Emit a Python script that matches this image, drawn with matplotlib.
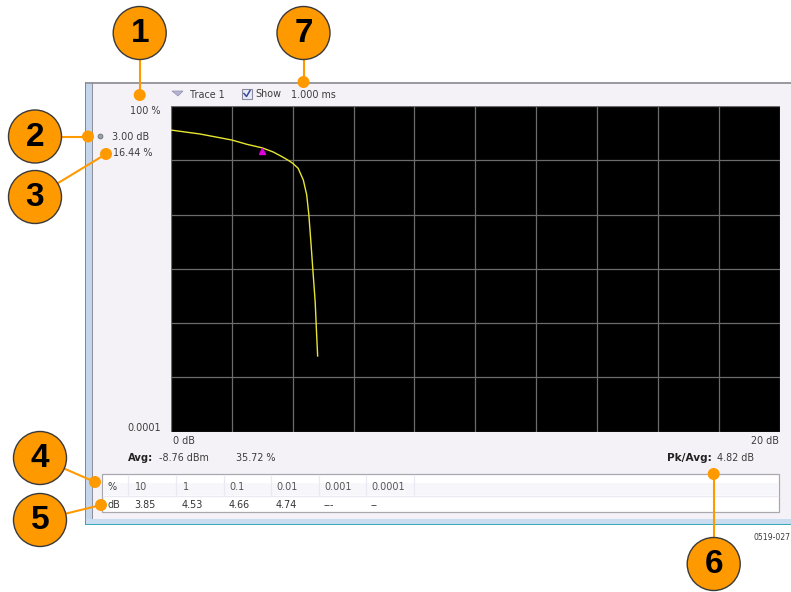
import matplotlib
matplotlib.use("Agg")
import matplotlib.pyplot as plt
from matplotlib.patches import Rectangle, Circle, Polygon

W, H = 791, 592

trace_db = [0, 0.95, 2.0, 2.49, 3.0, 3.36, 3.69, 3.85, 4.0, 4.18, 4.35, 4.46, 4.53, 4.60, 4.66, 4.74, 4.78, 4.82]
trace_pct = [36, 30.5, 23.6, 19.7, 16.9, 14.2, 11.3, 10, 8.8, 7.1, 4.3, 2.3, 1.0, 0.30, 0.1, 0.024, 0.0074, 0.00247]
marker_db = [3.0]
marker_pct = [14.6]
table_pct = ["10", "1", "0.1", "0.01", "0.001", "0.0001"]
table_db = ["3.85", "4.53", "4.66", "4.74", "---", "--"]
callouts = ["1", "2", "3", "4", "5", "6", "7"]

ORANGE = "#ff9900"
FONT = "DejaVu Sans"
TXT = "#3c3c3c"

fig = plt.figure(figsize=(W / 100, H / 100), dpi=100, facecolor="white")

# pixel-space background / annotation layer
bg = fig.add_axes([0, 0, 1, 1], zorder=0)
bg.set_xlim(0, W)
bg.set_ylim(H, 0)
bg.axis("off")

bg.add_patch(Rectangle((85, 82), W - 85, 443, fc="#f5f2f7", ec="none"))
bg.add_patch(Rectangle((85, 82), 8, 443, fc="#c3d6ec", ec="none"))
bg.add_patch(Rectangle((85, 82), W - 85, 1.6, fc="#9a9aa0", ec="none"))
bg.add_patch(Rectangle((92, 82), 1, 437, fc="#8f8f98", ec="none"))
bg.add_patch(Rectangle((85, 519), W - 85, 5, fc="#c9dcf0", ec="none"))
bg.add_patch(Rectangle((85, 523.6), W - 85, 1.8, fc="#38a8bc", ec="none"))
bg.add_patch(Rectangle((85, 82), 1.2, 443, fc="#7d8a96", ec="none"))

# table
bg.add_patch(Rectangle((102, 474), 677, 38, fc="white", ec="#a8a8b0", lw=0.9, zorder=1))
bg.add_patch(Rectangle((103, 483), 675, 12, fc="#f6f6fb", ec="none", zorder=1))
bg.plot([103, 778], [495.5, 495.5], color="#eceaf0", lw=1, zorder=1.1)
for xd in [128, 176, 224, 271, 319, 366, 414]:
    bg.plot([xd, xd], [475, 495], color="#eaeaf2", lw=0.9, zorder=1.1)

def t(x, y, s, ha="left", color=TXT, size=6.9, weight="normal"):
    bg.text(x, y, s, ha=ha, va="center", fontsize=size, color=color, fontweight=weight, family=FONT, zorder=3)

t(108, 486.5, "%")
t(108, 505, "dB")
for xd, a, b in zip([134, 182, 229, 276, 324, 371], table_pct, table_db):
    t(xd + 0.5, 486.5, a, color="#555555")
    t(xd, 505, b, color="#333333")

t(160, 110.5, "100 %", ha="right")
t(112, 137.5, "3.00 dB")
t(113, 153.5, "16.44 %")
t(161, 428, "0.0001", ha="right")
t(173, 440.5, "0 dB")
t(779, 440.5, "20 dB", ha="right")
t(128, 458, "Avg:", weight="bold", color="#222222", size=7.2)
t(159, 458, "-8.76 dBm")
t(236, 458, "35.72 %")
t(667, 458, "Pk/Avg:", weight="bold", color="#222222", size=7.6)
t(717, 458, "4.82 dB")
t(754, 537.5, "0519-027", size=5.6)
t(190, 94.5, "Trace 1")
t(255, 94, "Show")
t(291, 95, "1.000 ms")

bg.add_patch(Polygon([[172, 91], [183, 91], [178, 96]], fc="#b4b4d2", ec="#9090b0", lw=0.5, zorder=2))
bg.add_patch(Rectangle((242, 89), 10, 10, fc="#e8ecf8", ec="#8a8aa0", lw=0.8, zorder=2))
bg.plot([244, 246.5, 250], [93.5, 96.5, 90.5], color="#3a4a9a", lw=1.1, zorder=2.1)
bg.add_patch(Circle((100.5, 136.5), 2.4, fc="#9aa0b0", ec="#607070", lw=0.6, zorder=2))

# main trace plot
ax = fig.add_axes([171 / W, 1 - 431.5 / H, (779.5 - 171) / W, (431.5 - 106) / H], zorder=1, facecolor="black")
ax.set_xlim(0, 20)
ax.set_yscale("log")
ax.set_ylim(1e-4, 100)
ax.set_xticks(range(0, 21, 2))
ax.set_yticks([1e-4, 1e-3, 1e-2, 1e-1, 1, 10, 100])
ax.minorticks_off()
ax.grid(True, color="#6c6c6c", lw=0.9)
ax.tick_params(length=0, labelbottom=False, labelleft=False)
for s in ax.spines.values():
    s.set_visible(False)
ax.set_axisbelow(True)
ax.plot(trace_db, trace_pct, color="#e6e632", lw=1.0, zorder=3)
ax.plot(marker_db, marker_pct, marker="^", color="#e000e0", ms=5, ls="none", zorder=4)

# callouts on top
top = fig.add_axes([0, 0, 1, 1], zorder=2, facecolor="none")
top.set_xlim(0, W)
top.set_ylim(H, 0)
top.axis("off")
centers = [(139.7, 33), (35, 136.5), (35, 197), (40, 458), (40, 520), (713.7, 564), (303.5, 33)]
dots = [(139.7, 95), (88, 136.5), (106, 154), (95, 482), (101, 505), (713.7, 474), (303.5, 82)]
for label, (cx, cy), (dx, dy) in zip(callouts, centers, dots):
    top.plot([cx, dx], [cy, dy], color=ORANGE, lw=1.5, zorder=1, solid_capstyle="butt")
    top.add_patch(Circle((dx, dy), 6, fc=ORANGE, ec="none", zorder=2))
    top.add_patch(Circle((cx, cy), 26.5, fc=ORANGE, ec="#3a3a3a", lw=1.0, zorder=3))
    top.text(cx, cy + 0.5, label, ha="center", va="center", fontsize=24, fontweight="bold",
             family="Liberation Sans", color="black", zorder=4)

fig.savefig("out.png", dpi=100, facecolor="white")
